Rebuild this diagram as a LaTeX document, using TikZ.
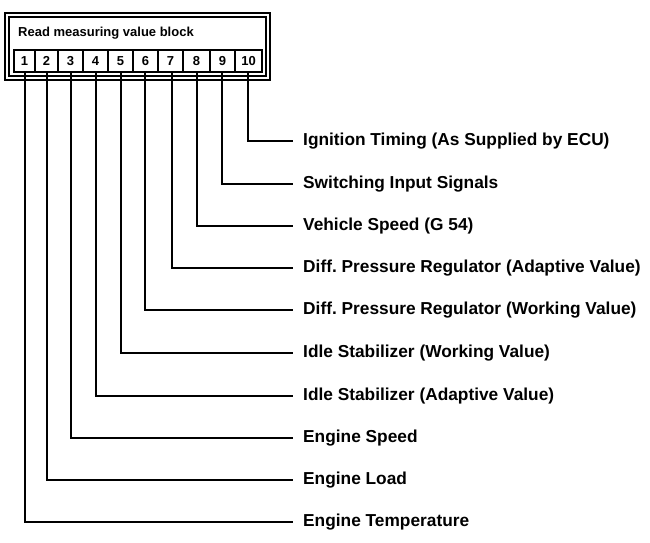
\documentclass[tikz,border=0pt]{standalone}
\usepackage{fontspec}
\setmainfont{Liberation Sans}
\begin{document}
\frenchspacing
\begin{tikzpicture}[x=1pt,y=-1pt,
  frame/.style={draw,line width=1.2pt},
  cell/.style={draw,line width=1.2pt,minimum height=22pt,inner sep=0pt,font=\fontsize{13}{14}\selectfont\bfseries},
  lbl/.style={anchor=west,inner sep=0pt,font=\fontsize{17.3}{19}\selectfont\bfseries},
  conn/.style={line width=1.2pt}]
\useasboundingbox (0,0) rectangle (650,543);
\draw[frame] (5,13) rectangle (270,80);
\draw[frame] (9,17) rectangle (266,76);
\node[anchor=west,inner sep=0pt,font=\fontsize{13}{14}\selectfont\bfseries] (title) at (18,33) {Read measuring value block};
% cells
\def\xs{{14,35,58,83,108,133,158,183,210,235,262}}
\foreach \i in {1,...,10}{
  \pgfmathsetmacro\xa{\xs[\i-1]}
  \pgfmathsetmacro\xb{\xs[\i]}
  \node[cell,minimum width=\xb-\xa] (c\i) at ({(\xa+\xb)/2},61) {\i};
}
% labels
\node[lbl] (l10) at (303,141) {Ignition Timing (As Supplied by ECU)};
\node[lbl] (l9) at (303,184) {Switching Input Signals};
\node[lbl] (l8) at (303,226) {Vehicle Speed (G 54)};
\node[lbl] (l7) at (303,268) {Diff. Pressure Regulator (Adaptive Value)};
\node[lbl] (l6) at (303,310) {Diff. Pressure Regulator (Working Value)};
\node[lbl] (l5) at (303,353) {Idle Stabilizer (Working Value)};
\node[lbl] (l4) at (303,396) {Idle Stabilizer (Adaptive Value)};
\node[lbl] (l3) at (303,438) {Engine Speed};
\node[lbl] (l2) at (303,480) {Engine Load};
\node[lbl] (l1) at (303,522) {Engine Temperature};
\foreach \i/\x in {1/25,2/47,3/71,4/96,5/121,6/145,7/172,8/197,9/222,10/248}{
  \draw[conn] (c\i.south -| \x,0) |- ([xshift=-10pt]l\i.west);
}
\end{tikzpicture}
\end{document}
